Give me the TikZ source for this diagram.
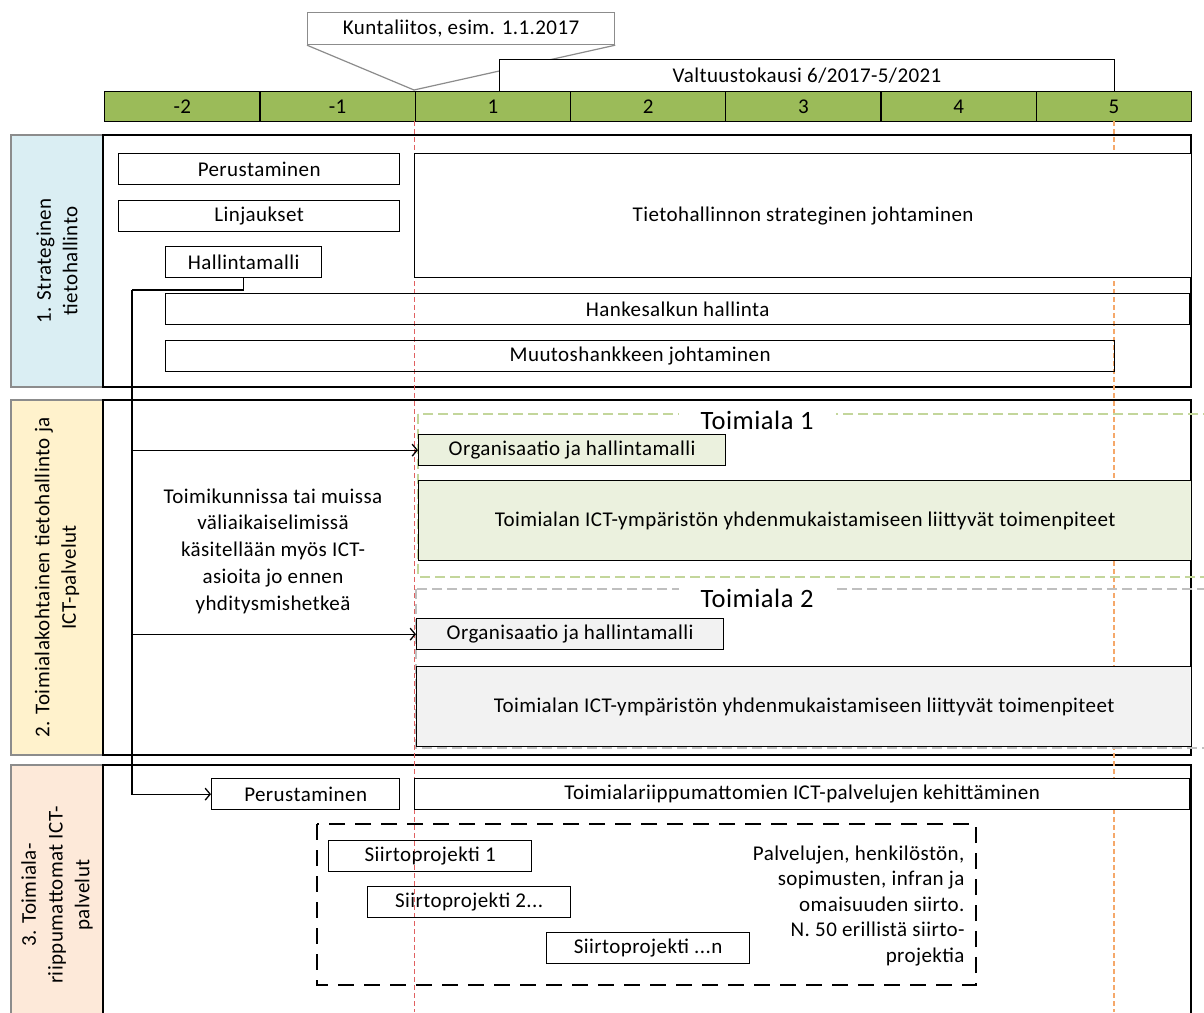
\documentclass[tikz,border=0pt]{standalone}
\usepackage{fontspec}
\setmainfont{Carlito}[LetterSpace=2]
\usetikzlibrary{arrows.meta}

\definecolor{bargreen}{HTML}{9BBB59}
\definecolor{laneblue}{HTML}{DAEEF3}
\definecolor{laneyellow}{HTML}{FFF2CC}
\definecolor{lanepeach}{HTML}{FDE9D9}
\definecolor{palegreen}{HTML}{EBF1DE}
\definecolor{palegray}{HTML}{F2F2F2}
\definecolor{dashgreen}{HTML}{C3D69B}
\definecolor{dashgray}{HTML}{BFBFBF}
\definecolor{mergered}{HTML}{E06060}
\definecolor{termorange}{HTML}{F5A86A}
\definecolor{frame}{HTML}{8C8C8C}

\tikzset{
  txt/.style={font=\fontsize{21}{26.7}\selectfont},
  bx/.style={txt, draw=black, line width=1.3pt, inner sep=0pt, anchor=north west, minimum height=31pt},
  cell/.style={txt, draw=black, line width=1.3pt, fill=bargreen, inner sep=0pt, anchor=north west, minimum height=30pt},
  lanehead/.style={txt, draw=frame, line width=1.3pt, rotate=90, align=center, inner sep=0pt},
  lanebox/.style={draw=black, line width=2pt},
  conn/.style={draw=black, line width=1.3pt},
  arrowtip/.style={-{Straight Barb[length=5pt,width=12pt,line width=1.3pt]}},
  groupgreen/.style={draw=dashgreen, line width=1.5pt, dash pattern=on 10pt off 5pt},
  groupgray/.style={draw=dashgray, line width=1.5pt, dash pattern=on 10pt off 5pt},
  grouptitle/.style={font=\fontsize{26.5}{30}\selectfont, fill=white, inner xsep=22pt, inner ysep=2pt},
  mergeline/.style={draw=mergered, line width=0.9pt, dash pattern=on 5pt off 3pt},
  termline/.style={draw=termorange, line width=1.2pt, dash pattern=on 5pt off 3pt},
}

\begin{document}
\begin{tikzpicture}[x=1pt,y=-1pt]
\useasboundingbox (0,0) rectangle (1204,1012);
\fill[white] (0,0) rectangle (1204,1012);

% callout for the merger date
\coordinate (mergept) at (414,90);
\node[txt, draw=frame, line width=1.2pt, fill=white, inner sep=0pt, anchor=north west,
      minimum width=307pt, minimum height=32pt] (merge) at (307,12) {Kuntaliitos, esim. 1.1.2017};
\draw[draw=frame, line width=1.2pt] (merge.south west) -- (mergept) -- (merge.south east);

% council term
\node[txt, draw=black, line width=1.1pt, fill=white, inner sep=0pt, anchor=north west,
      minimum width=615pt, minimum height=32pt] (valt) at (499,59) {Valtuustokausi 6/2017-5/2021};

% year bar
\foreach \lab [count=\i] in {-2,-1,1,2,3,4,5}
  \node[cell, minimum width=155.3pt] (yr\i) at ({104+155.29*(\i-1)},91) {\lab};

% lanes
\node[lanehead, fill=laneblue, minimum width=252pt, minimum height=92pt] (lane1) at (57,261)
  {1. Strateginen\\tietohallinto};
\draw[lanebox] (103,135) rectangle (1191,387);

\node[lanehead, fill=laneyellow, minimum width=355pt, minimum height=92pt] (lane2) at (57,577.5)
  {2. Toimialakohtainen tietohallinto ja\\ICT-palvelut};
\draw[lanebox] (103,400) rectangle (1191,755);

\node[lanehead, fill=lanepeach, minimum width=260pt, minimum height=92pt] (lane3) at (57,895)
  {3. Toimiala-\\riippumattomat ICT-\\palvelut};
\draw[lanebox] (103,765) rectangle (1191,1030);

% merger date and end of term markers
\coordinate (redtop) at (414,121);
\coordinate (redbot) at (414,1012);
\coordinate (orangetop) at (1114,121);
\coordinate (orangebot) at (1114,1012);
\draw[mergeline] (redtop) -- (redbot);
\draw[termline] (orangetop) -- (orangebot);

% lane 1
\node[bx, minimum width=281pt] (perA) at (118,153) {Perustaminen};
\node[bx, minimum width=281pt] (linj) at (118,200) {Linjaukset};
\node[bx, fill=white, minimum width=156pt] (hall) at (165,246) {Hallintamalli};
\node[bx, fill=white, minimum width=777pt, minimum height=124pt] (tjoht) at (414,153)
  {Tietohallinnon strateginen johtaminen};
\node[bx, minimum width=1024pt] (hanke) at (165,293) {Hankesalkun hallinta};
\node[bx, minimum width=949pt] (muutos) at (165,340) {Muutoshankkeen johtaminen};

% lane 2, domain 1
\draw[groupgreen] (418,414) rectangle (1215,577);
\node[grouptitle] (dom1) at (757,420) {Toimiala 1};
\node[bx, fill=palegreen, minimum width=307pt] (orgA) at (418,434) {Organisaatio ja hallintamalli};
\node[bx, fill=palegreen, minimum width=773pt, minimum height=80pt] (toimA) at (418,480)
  {Toimialan ICT-ympäristön yhdenmukaistamiseen liittyvät toimenpiteet};

% lane 2, domain 2
\draw[groupgray] (416,589) rectangle (1215,748);
\node[grouptitle] (dom2) at (757,598) {Toimiala 2};
\node[bx, fill=palegray, minimum width=307pt] (orgB) at (416,618) {Organisaatio ja hallintamalli};
\node[bx, fill=palegray, minimum width=775pt, minimum height=80pt] (toimB) at (416,666)
  {Toimialan ICT-ympäristön yhdenmukaistamiseen liittyvät toimenpiteet};

\node[txt, align=center] (interim) at (273,551)
  {Toimikunnissa tai muissa\\väliaikaiselimissä\\käsitellään myös ICT-\\asioita jo ennen\\yhditysmishetkeä};

% lane 3
\node[bx, fill=white, minimum width=188pt] (perC) at (211,778) {Perustaminen};
\node[bx, fill=white, minimum width=775pt] (kehit) at (414,778)
  {Toimialariippumattomien ICT-palvelujen kehittäminen};
\draw[draw=black, line width=1.3pt, dash pattern=on 16pt off 10pt] (317,824) rectangle (976,985);
\node[bx, minimum width=203pt] (siirtoA) at (328,840) {Siirtoprojekti 1};
\node[bx, minimum width=203pt] (siirtoB) at (367,886) {Siirtoprojekti 2...};
\node[bx, minimum width=203pt] (siirtoN) at (546,932) {Siirtoprojekti ...n};
\node[txt, align=right, anchor=north east, font=\fontsize{21}{25.5}\selectfont] (siirtonote) at (968,842)
  {Palvelujen, henkilöstön,\\sopimusten, infran ja\\omaisuuden siirto.\\N. 50 erillistä siirto-\\projektia};

% governance model feeds the later phases
\coordinate (split) at (132,290);
\draw[conn] (hall.south) |- (split);
\draw[conn, arrowtip] (split) |- (orgA.west);
\draw[conn, arrowtip] (split) |- (orgB.west);
\draw[conn, arrowtip] (split) |- (perC.west);
\end{tikzpicture}
\end{document}
